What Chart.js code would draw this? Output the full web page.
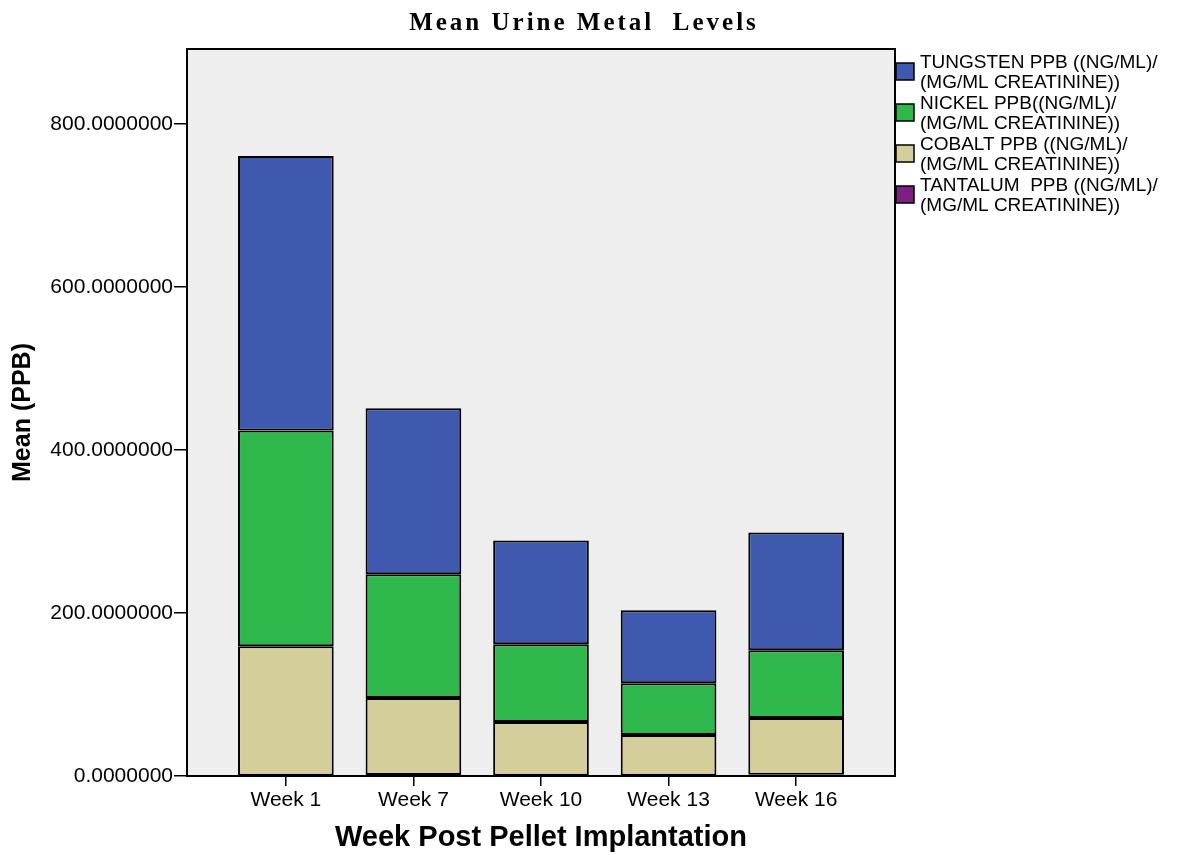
<!DOCTYPE html>
<html>
<head>
<meta charset="utf-8">
<script src="https://cdn.jsdelivr.net/npm/chart.js@4"></script>
<style>
  html, body { margin: 0; padding: 0; background: #ffffff; }
  #wrap { width: 1194px; height: 855px; position: relative; }
</style>
</head>
<body>
<div id="wrap"><canvas id="c" width="1194" height="855"></canvas></div>
<script>
// ---- Data ----
const categories = ["Week 1", "Week 7", "Week 10", "Week 13", "Week 16"];
const tantalum = [0.4, 1.2, 0.4, 0.4, 1.5];
const cobalt   = [158.9, 94.4, 65.8, 49.8, 69.6];
const nickel   = [264.6, 151.9, 95.5, 63.7, 83.3];
const tungsten = [336.9, 203.7, 127.4, 89.5, 144.5];
const yTicks = [0, 200, 400, 600, 800];
const seriesLabels = [
  ["TUNGSTEN PPB ((NG/ML)/", "(MG/ML CREATININE))"],
  ["NICKEL PPB((NG/ML)/", "(MG/ML CREATININE))"],
  ["COBALT PPB ((NG/ML)/", "(MG/ML CREATININE))"],
  ["TANTALUM  PPB ((NG/ML)/", "(MG/ML CREATININE))"]
];
const chartTitle = "Mean Urine Metal  Levels";
const xTitle = "Week Post Pellet Implantation";
const yTitle = "Mean (PPB)";

const colors = {
  tungsten: "#3E59AD",
  nickel: "#2EB84B",
  cobalt: "#D4CF9A",
  tantalum: "#7A2182"
};

function pts(arr) { return arr.map((v, i) => ({ x: i, y: v })); }

// stacked bottom -> top
const datasets = [
  { label: seriesLabels[3].join(" "), data: pts(tantalum), backgroundColor: colors.tantalum },
  { label: seriesLabels[2].join(" "), data: pts(cobalt), backgroundColor: colors.cobalt },
  { label: seriesLabels[1].join(" "), data: pts(nickel), backgroundColor: colors.nickel },
  { label: seriesLabels[0].join(" "), data: pts(tungsten), backgroundColor: colors.tungsten }
].map(d => Object.assign(d, {
  borderColor: "#000000",
  borderWidth: 2,
  borderSkipped: false,
  barPercentage: 1.0,
  categoryPercentage: 0.75
}));

const legendColors = [colors.tungsten, colors.nickel, colors.cobalt, colors.tantalum];

const decor = {
  id: "decor",
  beforeDraw(chart) {
    const { ctx, chartArea: a } = chart;
    ctx.save();
    ctx.fillStyle = "#EEEEEE";
    ctx.fillRect(a.left, a.top, a.right - a.left, a.bottom - a.top);
    ctx.restore();
  },
  afterDraw(chart) {
    const { ctx, chartArea: a } = chart;
    ctx.save();
    ctx.strokeStyle = "#000000";
    ctx.lineWidth = 2;
    ctx.strokeRect(a.left, a.top, a.right - a.left, a.bottom - a.top);
    // title
    ctx.fillStyle = "#000000";
    ctx.font = "bold 25px 'Liberation Serif', 'Times New Roman', serif";
    ctx.textAlign = "center";
    ctx.textBaseline = "alphabetic";
    if (ctx.letterSpacing !== undefined) ctx.letterSpacing = "3px";
    ctx.fillText(chartTitle, 584, 30);
    if (ctx.letterSpacing !== undefined) ctx.letterSpacing = "0px";
    // legend
    ctx.font = "19px 'Liberation Sans', Arial, sans-serif";
    ctx.textAlign = "left";
    for (let i = 0; i < seriesLabels.length; i++) {
      const by = 63 + i * 41;
      ctx.fillStyle = legendColors[i];
      ctx.fillRect(896, by, 18, 17);
      ctx.lineWidth = 1.5;
      ctx.strokeStyle = "#000";
      ctx.strokeRect(896, by, 18, 17);
      ctx.fillStyle = "#000";
      ctx.fillText(seriesLabels[i][0], 920, by + 5);
      ctx.fillText(seriesLabels[i][1], 920, by + 25);
    }
    ctx.restore();
  }
};

new Chart(document.getElementById("c"), {
  type: "bar",
  data: { datasets },
  plugins: [decor],
  options: {
    responsive: false,
    animation: false,
    layout: { padding: { left: 0, top: 49, right: 299, bottom: 0 } },
    plugins: { legend: { display: false }, tooltip: { enabled: false }, title: { display: false } },
    scales: {
      x: {
        type: "linear",
        stacked: true,
        offset: false,
        min: -0.775,
        max: 4.775,
        afterBuildTicks(scale) { scale.ticks = categories.map((c, i) => ({ value: i })); },
        afterFit(scale) { scale.height = 855 - 776; },
        ticks: {
          callback: (v) => categories[v] ?? "",
          color: "#000",
          font: { family: "'Liberation Sans', Arial, sans-serif", size: 21 },
          padding: 2,
          autoSkip: false,
          maxRotation: 0
        },
        grid: { drawOnChartArea: false, drawTicks: true, tickLength: 10, color: "#000", lineWidth: 1.5, offset: false },
        border: { display: true, color: "#000", width: 2 },
        title: {
          display: true,
          text: xTitle,
          color: "#000",
          font: { family: "'Liberation Sans', Arial, sans-serif", size: 29, weight: "bold" },
          padding: { top: 9, bottom: 0 }
        }
      },
      y: {
        stacked: true,
        min: 0,
        max: 892,
        afterBuildTicks(scale) { scale.ticks = yTicks.map(v => ({ value: v })); },
        afterFit(scale) { scale.width = 187; },
        ticks: {
          callback: (v) => Number(v).toFixed(7),
          color: "#000",
          font: { family: "'Liberation Sans', Arial, sans-serif", size: 21 },
          padding: 1
        },
        grid: { drawOnChartArea: false, drawTicks: true, tickLength: 13, color: "#000", lineWidth: 1.5 },
        border: { display: true, color: "#000", width: 2 },
        title: {
          display: true,
          text: yTitle,
          color: "#000",
          font: { family: "'Liberation Sans', Arial, sans-serif", size: 25, weight: "bold" },
          padding: { top: 8, bottom: 0 }
        }
      }
    }
  }
});
</script>
</body>
</html>
